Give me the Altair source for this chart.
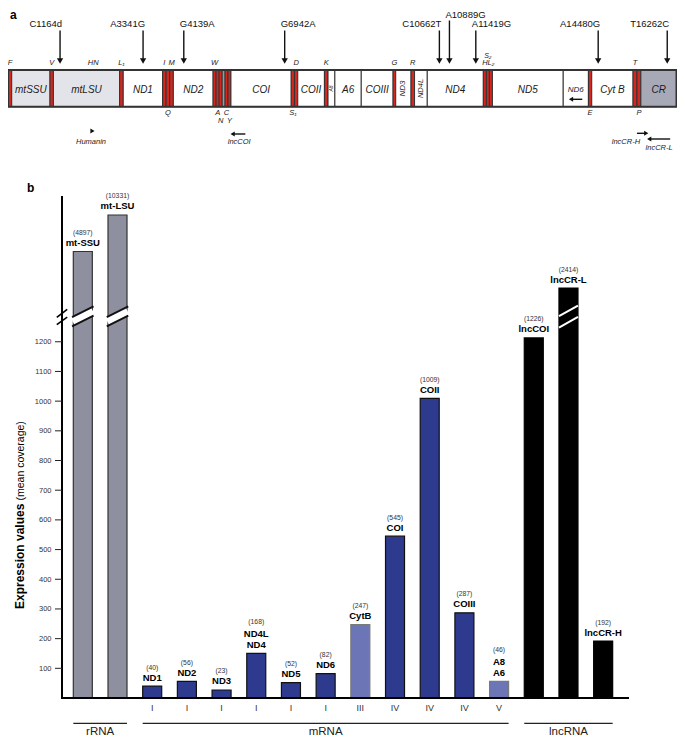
import altair as alt
import pandas as pd

FONT = "Liberation Sans"

# ---------------- panel a: genome map (positions along the drawn map, 0-685) ----------------
seg_names = ["F", "mtSSU", "V", "mtLSU", "L₁", "ND1", "I", "Q", "M", "ND2",
             "W", "A", "N", "OL", "C", "Y", "COI", "S₁", "D", "COII", "K",
             "A8", "A6", "COIII", "G", "ND3", "R", "ND4L", "ND4", "H", "S₂", "L₂",
             "ND5", "ND6", "E", "Cyt B", "T", "P", "CR"]
seg_start = [0.5, 3.8, 43, 46.5, 114.3, 118, 158.3, 161.9, 165.6, 169.3,
             210, 213.1, 216.2, 219.3, 222.3, 225.3, 228.3, 290, 293.3, 296.7, 324,
             327.7, 334.7, 361.7, 394.3, 397, 412.7, 416.3, 429.3, 486.7, 489.8, 492.9,
             496, 568.5, 594.3, 597.7, 640, 644, 648]
map_end = 684.5
seg_kind = ["tRNA", "rRNA", "tRNA", "rRNA", "tRNA", "gene", "tRNA", "tRNA", "tRNA", "gene",
            "tRNA", "tRNA", "tRNA", "OL", "tRNA", "tRNA", "gene", "tRNA", "tRNA", "gene", "tRNA",
            "gene", "gene", "gene", "tRNA", "gene", "tRNA", "gene", "gene", "tRNA", "tRNA", "tRNA",
            "gene", "gene", "tRNA", "gene", "tRNA", "tRNA", "CR"]

trna_above = ["F", "V", "L₁", "I", "M", "W", "D", "K", "G", "R", "H", "L₂", "T"]
trna_below = ["Q", "A", "C", "S₁", "E", "P"]
trna_below2 = ["N", "Y"]
trna_top2 = ["S₂"]

mut_names = ["C1164d", "A3341G", "G4139A", "G6942A", "C10662T", "A10889G", "A11419G", "A14480G", "T16262C"]
mut_pos = [53.3, 138.3, 180, 283.3, 441.7, 452, 479, 604.3, 675]
mut_right = ["C1164d", "A3341G", "C10662T", "A14480G", "T16262C"]
mut_raised = ["A10889G"]

tx_names = ["ND6", "lncCOI", "lncCR-H", "lncCR-L", "Humanin"]
tx_tail = [588, 243, 644, 678, 86.5]
tx_head = [576.5, 230, 653.5, 656.5, 86.5]
tx_label_x = [None, 236.7, 632.7, 666.7, 85]

# ---------------- panel b: expression values ----------------
name_bottom = ["mt-SSU", "mt-LSU", "ND1", "ND2", "ND3", "ND4", "ND5", "ND6", "CytB",
               "COI", "COII", "COIII", "A6", "lncCOI", "lncCR-L", "lncCR-H"]
name_top = ["", "", "", "", "", "ND4L", "", "", "", "", "", "", "A8", "", "", ""]
values = [4897, 10331, 40, 56, 23, 168, 52, 82, 247, 545, 1009, 287, 46, 1226, 2414, 192]
drawn = [1504, 1627, 40, 56, 27, 150, 52, 82, 247, 545, 1009, 287, 56, 1213, 1381, 192]
rna_class = ["rRNA"] * 2 + ["mRNA"] * 11 + ["lncRNA"] * 3
complex_ = ["", "", "I", "I", "I", "I", "I", "I", "III", "IV", "IV", "IV", "V", "", "", ""]
broken = ["mt-SSU", "mt-LSU", "lncCR-L"]
groups = ["rRNA", "mRNA", "lncRNA"]
y_ticks = list(range(100, 1300, 100))

# ---------------- tables ----------------
seg = pd.DataFrame({"name": seg_names, "start": seg_start,
                    "end": seg_start[1:] + [map_end], "kind": seg_kind})
seg["mid"] = (seg["start"] + seg["end"]) / 2

HALF = 0.274
df = pd.DataFrame({"nb": name_bottom, "nt": name_top, "value": values, "drawn": drawn,
                   "cls": rna_class, "cx": complex_})
df["idx"] = range(len(df))
df["lo"] = df["idx"] - HALF
df["hi"] = df["idx"] + HALF
df["vlabel"] = "(" + df["value"].astype(str) + ")"
df["kind"] = [("mRNA light" if c in ("III", "V") else k) for k, c in zip(df["cls"], df["cx"])]

# ---------------- scales & axes ----------------
W, H = 567, 502
X0, X1, YTOP = -0.6, 15.745, 1691
xsA = alt.Scale(domain=[0, 685], range=[-54, 615], nice=False, zero=False)
xsB = alt.Scale(domain=[X0, X1], nice=False, zero=False)
ysB = alt.Scale(domain=[0, YTOP], nice=False, zero=False)
xaxB = alt.Axis(orient="bottom", labels=False, ticks=False, domain=False, title=None, grid=False)
yaxB = alt.Axis(orient="left", values=y_ticks, title=None, grid=False, format="d",
                domain=False, ticks=False, labelFont=FONT, labelFontSize=7.5,
                labelColor="#333", labelPadding=11)


def XA(f):
    return alt.X(f, scale=xsA, axis=None)


def XB(f):
    return alt.X(f, scale=xsB, axis=xaxB)


def YB(f):
    return alt.Y(f, scale=ysB, axis=yaxB)


def P(page_y):  # page y -> plot-relative pixel (plot top at page 196)
    return alt.value(page_y - 196)


# ---------------- panel a layers ----------------
A = []
A.append(alt.Chart(seg).mark_rect(stroke="#333", strokeWidth=1).encode(
    x=XA("start:Q"), x2="end:Q", y=P(70), y2=P(106.7),
    fill=alt.Fill("kind:N", legend=None,
                  scale=alt.Scale(domain=["gene", "rRNA", "tRNA", "OL", "CR"],
                                  range=["#ffffff", "#e3e4e9", "#d3271f", "#9b9b9b", "#a8a9b7"]))))
A.append(alt.Chart(pd.DataFrame({"s": [0], "e": [map_end]})).mark_rect(
    fillOpacity=0, stroke="#333", strokeWidth=2).encode(
    x=XA("s:Q"), x2="e:Q", y=P(70), y2=P(106.7)))

special = {"ND3": 8, "ND4L": 7.5, "A8": 5}
glab = seg[seg["kind"].isin(["gene", "rRNA", "CR"]) & ~seg["name"].isin(list(special) + ["ND6"])]
A.append(alt.Chart(glab).mark_text(font=FONT, fontSize=10, fontStyle="italic", color="#1a1a1a",
                                   baseline="middle").encode(
    x=XA("mid:Q"), y=P(89.5), text="name:N"))
for nm, fs in special.items():
    A.append(alt.Chart(seg[seg["name"] == nm]).mark_text(
        font=FONT, fontSize=fs, fontStyle="italic", color="#1a1a1a", angle=270,
        baseline="middle").encode(x=XA("mid:Q"), y=P(88.5), text="name:N"))
A.append(alt.Chart(seg[seg["name"] == "ND6"]).mark_text(
    font=FONT, fontSize=8, fontStyle="italic", color="#1a1a1a", baseline="middle").encode(
    x=XA("mid:Q"), y=P(89.5), text="name:N"))

trna = seg[seg["kind"] == "tRNA"]
for names, py, fs in [(trna_above, 65, 7.5), (trna_below, 115, 7.5), (trna_below2, 123, 7.5),
                      (trna_top2, 58, 7)]:
    A.append(alt.Chart(trna[trna["name"].isin(names)]).mark_text(
        font=FONT, fontSize=fs, fontStyle="italic", color="#222", baseline="alphabetic").encode(
        x=XA("mid:Q"), y=P(py), text="name:N"))
A.append(alt.Chart(pd.DataFrame({"t": ["HN"], "p": [87.3]})).mark_text(
    font=FONT, fontSize=7.5, fontStyle="italic", color="#222", baseline="alphabetic").encode(
    x=XA("p:Q"), y=P(65), text="t:N"))

mut = pd.DataFrame({"name": mut_names, "pos": mut_pos})
mut_norm = mut[~mut["name"].isin(mut_raised)]
mut_up = mut[mut["name"].isin(mut_raised)]
A.append(alt.Chart(mut_norm).mark_rule(color="#111", strokeWidth=1.4).encode(
    x=XA("pos:Q"), y=P(30.5), y2=P(59)))
A.append(alt.Chart(mut_up).mark_rule(color="#111", strokeWidth=1.4).encode(
    x=XA("pos:Q"), y=P(20.5), y2=P(59)))
A.append(alt.Chart(mut).mark_point(shape="triangle-down", filled=True, size=40, color="#111",
                                   opacity=1).encode(x=XA("pos:Q"), y=P(61)))
A.append(alt.Chart(mut_norm[mut_norm["name"].isin(mut_right)]).mark_text(
    font=FONT, fontSize=9.5, color="#111", align="right", dx=2, baseline="alphabetic").encode(
    x=XA("pos:Q"), y=P(27), text="name:N"))
A.append(alt.Chart(mut_norm[~mut_norm["name"].isin(mut_right)]).mark_text(
    font=FONT, fontSize=9.5, color="#111", align="left", dx=-4, baseline="alphabetic").encode(
    x=XA("pos:Q"), y=P(27), text="name:N"))
A.append(alt.Chart(mut_up).mark_text(
    font=FONT, fontSize=9.5, color="#111", align="left", dx=-4, baseline="alphabetic").encode(
    x=XA("pos:Q"), y=P(17.5), text="name:N"))

tx = pd.DataFrame({"name": tx_names, "tail": tx_tail, "head": tx_head, "lx": tx_label_x})
tx_rows = {"ND6": (99.3, None), "lncCOI": (134, 141.5), "lncCR-H": (133.3, 141.5),
           "lncCR-L": (139, 147.5), "Humanin": (131, 141.5)}
for nm, (ay, ly) in tx_rows.items():
    row = tx[tx["name"] == nm]
    t, h = float(row["tail"].iloc[0]), float(row["head"].iloc[0])
    if t != h:
        A.append(alt.Chart(row).mark_rule(color="#111", strokeWidth=1.4).encode(
            x=XA("tail:Q"), x2="head:Q", y=P(ay)))
    shape = "triangle-left" if h < t else "triangle-right"
    A.append(alt.Chart(row).mark_point(shape=shape, filled=True, size=24, color="#111",
                                       opacity=1).encode(x=XA("head:Q"), y=P(ay)))
    if ly is not None:
        A.append(alt.Chart(row).mark_text(font=FONT, fontSize=7.5, fontStyle="italic",
                                          color="#222", baseline="middle").encode(
            x=XA("lx:Q"), y=P(ly), text="name:N"))

panelA = alt.layer(*A)

# ---------------- panel b layers ----------------
B = []
kind_dom = ["rRNA", "mRNA", "mRNA light", "lncRNA"]
B.append(alt.Chart(df).mark_rect(strokeWidth=1.2).encode(
    x=XB("lo:Q"), x2="hi:Q",
    y=YB("drawn:Q"), y2=alt.datum(0),
    fill=alt.Fill("kind:N", legend=None, scale=alt.Scale(
        domain=kind_dom, range=["#8e909f", "#2d3a8e", "#6c75b5", "#000000"])),
    stroke=alt.Stroke("kind:N", legend=None, scale=alt.Scale(
        domain=kind_dom, range=["#333333", "#111111", "#7a7a7a", "#000000"]))))

# break marks on bars
BREAK, RISE, GAP = 1252, 36, 31
rows = []
for _, r in df[df["nb"].isin(broken)].iterrows():
    i = r["idx"]
    if r["cls"] == "rRNA":
        rows.append((i - 0.29, BREAK + GAP / 2, i + 0.29, BREAK + GAP / 2 + RISE, "band"))
        rows.append((i - 0.31, BREAK, i + 0.31, BREAK + RISE, "black"))
        rows.append((i - 0.31, BREAK + GAP, i + 0.31, BREAK + GAP + RISE, "black"))
    else:
        rows.append((i - HALF, BREAK - 4, i + HALF, BREAK - 4 + RISE, "white"))
        rows.append((i - HALF, BREAK + 34, i + HALF, BREAK + 34 + RISE, "white"))
rows.append((X0 - 0.15, 1258, X0 + 0.15, 1283, "axis"))
rows.append((X0 - 0.15, 1282, X0 + 0.15, 1309, "axis"))
brk = pd.DataFrame(rows, columns=["x1", "y1", "x2", "y2", "style"])
for style, col, w in [("band", "#ffffff", 8), ("black", "#111111", 2), ("white", "#ffffff", 2)]:
    B.append(alt.Chart(brk[brk["style"] == style]).mark_rule(color=col, strokeWidth=w,
                                                              strokeCap="butt").encode(
        x=XB("x1:Q"), x2="x2:Q", y=YB("y1:Q"), y2="y2:Q"))

single = df[df["nt"] == ""]
double = df[df["nt"] != ""]
B.append(alt.Chart(single).mark_text(font=FONT, fontSize=6.8, color="#333", dy=-16.5,
                                     baseline="alphabetic").encode(
    x=XB("idx:Q"), y=YB("drawn:Q"), text="vlabel:N"))
B.append(alt.Chart(double).mark_text(font=FONT, fontSize=6.8, color="#333", dy=-29,
                                     baseline="alphabetic").encode(
    x=XB("idx:Q"), y=YB("drawn:Q"), text="vlabel:N"))
B.append(alt.Chart(df).mark_text(font=FONT, fontSize=9.5, fontWeight="bold", color="#000",
                                 dy=-5.5, baseline="alphabetic").encode(
    x=XB("idx:Q"), y=YB("drawn:Q"), text="nb:N"))
B.append(alt.Chart(double).mark_text(font=FONT, fontSize=9.5, fontWeight="bold", color="#000",
                                     dy=-16, baseline="alphabetic").encode(
    x=XB("idx:Q"), y=YB("drawn:Q"), text="nt:N"))
B.append(alt.Chart(df[df["cx"] != ""]).mark_text(font=FONT, fontSize=9, color="#333",
                                                 dy=13, baseline="alphabetic").encode(
    x=XB("idx:Q"), y=alt.YDatum(0, scale=ysB, axis=yaxB), text="cx:N"))

grp = pd.DataFrame({"g": groups})
grp["lo"] = [df.loc[df["cls"] == g, "idx"].min() - HALF for g in groups]
grp["hi"] = [df.loc[df["cls"] == g, "idx"].max() + HALF for g in groups]
grp["mid"] = (grp["lo"] + grp["hi"]) / 2
B.append(alt.Chart(grp).mark_rule(color="#222", strokeWidth=1.3).encode(
    x=XB("lo:Q"), x2="hi:Q", y=P(723.3)))
B.append(alt.Chart(grp).mark_text(font=FONT, fontSize=11.5, color="#222",
                                  baseline="alphabetic").encode(
    x=XB("mid:Q"), y=P(735), text="g:N"))

txt = pd.DataFrame({"bold": ["Expression values"], "reg": ["(mean coverage)"],
                    "a": ["a"], "b": ["b"]})
B.append(alt.Chart(txt).mark_text(font=FONT, fontSize=12, fontWeight="bold", angle=270,
                                  align="left", baseline="alphabetic", color="#000").encode(
    x=alt.value(24 - 62), y=P(609), text="bold:N"))
B.append(alt.Chart(txt).mark_text(font=FONT, fontSize=10.5, angle=270, align="left",
                                  baseline="alphabetic", color="#000").encode(
    x=alt.value(24 - 62), y=P(500.5), text="reg:N"))
B.append(alt.Chart(txt).mark_text(font=FONT, fontSize=12, fontWeight="bold", align="left",
                                  baseline="alphabetic", color="#000").encode(
    x=alt.value(27 - 62), y=P(192), text="b:N"))
B.append(alt.Chart(txt).mark_text(font=FONT, fontSize=12, fontWeight="bold", align="left",
                                  baseline="alphabetic", color="#000").encode(
    x=alt.value(10 - 62), y=P(18.5), text="a:N"))

# axis line, baseline (solid rects along the plot edges) and ticks, drawn last
one = pd.DataFrame({"k": [0]})
B.append(alt.Chart(one).mark_rect(color="#000000", opacity=1).encode(
    x=alt.value(-1), x2=alt.value(1), y=alt.value(0), y2=alt.value(H + 1)))
B.append(alt.Chart(one).mark_rect(color="#000000", opacity=1).encode(
    x=alt.value(-1), x2=alt.value(W), y=alt.value(H - 1), y2=alt.value(H + 1)))
tk = pd.DataFrame({"v": y_ticks})
B.append(alt.Chart(tk).mark_tick(orient="horizontal", size=7, thickness=1, color="#222",
                                 opacity=1).encode(
    x=alt.value(-3.5), y=YB("v:Q")))
B.append(alt.Chart(brk[brk["style"] == "axis"]).mark_rule(color="#000000", strokeWidth=1.6,
                                                           strokeCap="butt").encode(
    x=XB("x1:Q"), x2="x2:Q", y=YB("y1:Q"), y2="y2:Q"))

panelB = alt.layer(*B)

chart = alt.layer(panelA, panelB).resolve_scale(
    x="independent", fill="independent", stroke="independent"
).properties(
    width=W, height=H,
    autosize=alt.AutoSizeParams(type="none"),
    padding={"left": 54, "top": 188, "right": 48, "bottom": 40},
).configure_view(stroke=None)

chart.save("out.html", embed_options={"renderer": "svg", "actions": False})
